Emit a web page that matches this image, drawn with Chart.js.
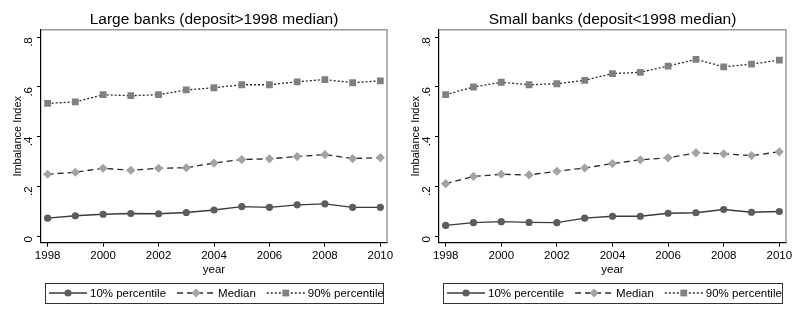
<!DOCTYPE html>
<html>
<head>
<meta charset="utf-8">
<script src="https://cdn.jsdelivr.net/npm/chart.js@4.4.0/dist/chart.umd.min.js"></script>
<style>
  body { margin: 0; background: #fff; }
  .panel { position: absolute; top: 0; width: 398px; height: 319px; }
</style>
</head>
<body>
<div class="panel" style="left:0"><canvas id="grafica1"></canvas></div>
<div class="panel" style="left:398px;width:399px"><canvas id="grafica2"></canvas></div>
<script>
var anios = [1998, 1999, 2000, 2001, 2002, 2003, 2004, 2005, 2006, 2007, 2008, 2009, 2010];
var ticksX = [1998, 2000, 2002, 2004, 2006, 2008, 2010];
var ticksY = [0, 0.2, 0.4, 0.6, 0.8];
var etiquetasY = ['0', '.2', '.4', '.6', '.8'];
var nombres = ['10% percentile', 'Median', '90% percentile'];

var grandesP10 = [0.072, 0.082, 0.088, 0.091, 0.090, 0.095, 0.105, 0.119, 0.116, 0.126, 0.130, 0.116, 0.116];
var grandesMed = [0.249, 0.257, 0.273, 0.265, 0.273, 0.275, 0.294, 0.308, 0.311, 0.320, 0.328, 0.312, 0.316];
var grandesP90 = [0.534, 0.540, 0.569, 0.565, 0.569, 0.588, 0.597, 0.609, 0.609, 0.621, 0.630, 0.617, 0.625];

var chicosP10 = [0.043, 0.054, 0.058, 0.055, 0.054, 0.072, 0.080, 0.080, 0.092, 0.094, 0.107, 0.096, 0.099];
var chicosMed = [0.211, 0.240, 0.249, 0.246, 0.261, 0.274, 0.292, 0.307, 0.315, 0.335, 0.331, 0.324, 0.339];
var chicosP90 = [0.569, 0.600, 0.619, 0.609, 0.613, 0.627, 0.654, 0.659, 0.684, 0.711, 0.681, 0.692, 0.708];

var fuente = 'Liberation Sans, Arial, sans-serif';

function puntos(valores) {
  var res = [];
  for (var i = 0; i < anios.length; i++) {
    res.push({ x: anios[i], y: valores[i] });
  }
  return res;
}

// marco gris arriba y a la derecha, como en Stata
var marco = {
  id: 'marco',
  afterDraw: function(chart) {
    var c = chart.ctx, a = chart.chartArea;
    c.save();
    c.strokeStyle = '#9a9a9a';
    c.lineWidth = 1.5;
    c.beginPath();
    c.moveTo(a.left, a.top);
    c.lineTo(a.right, a.top);
    c.lineTo(a.right, a.bottom);
    c.stroke();
    c.restore();
  }
};

// leyenda con linea + marcador dentro de una caja
var leyenda = {
  id: 'leyenda',
  afterDraw: function(chart) {
    var c = chart.ctx, a = chart.chartArea;
    var izq = a.left + 4, der = a.right - 4, arriba = 283, alto = 20;
    var cy = arriba + alto / 2;
    c.save();
    c.strokeStyle = '#333';
    c.lineWidth = 1;
    c.strokeRect(izq + 0.5, arriba + 0.5, der - izq, alto);
    c.font = '11.5px ' + fuente;
    c.textBaseline = 'middle';
    c.fillStyle = '#000';
    var x = izq + 4;
    chart.data.datasets.forEach(function(ds) {
      c.save();
      c.strokeStyle = ds.borderColor;
      c.lineWidth = ds.borderWidth;
      c.setLineDash(ds.borderDash || []);
      c.beginPath();
      c.moveTo(x, cy);
      c.lineTo(x + 38, cy);
      c.stroke();
      c.restore();
      c.save();
      c.fillStyle = ds.pointBackgroundColor;
      c.strokeStyle = ds.pointBackgroundColor;
      c.lineWidth = 0;
      Chart.helpers.drawPoint(c, { pointStyle: ds.pointStyle, radius: ds.pointRadius, rotation: 0, borderWidth: 0 }, x + 19, cy);
      c.restore();
      x += 41;
      c.fillText(ds.label, x, cy + 0.5);
      x += c.measureText(ds.label).width + 11;
    });
    c.restore();
  }
};

function crear(id, titulo, p10, med, p90) {
  var ctx = document.getElementById(id).getContext('2d');
  return new Chart(ctx, {
    type: 'line',
    data: {
      datasets: [{
        label: nombres[0],
        data: puntos(p10),
        borderColor: '#3a3a3a',
        borderWidth: 1.3,
        pointStyle: 'circle',
        pointRadius: 3.6,
        pointBackgroundColor: '#5c5c5c',
        pointBorderColor: '#5c5c5c',
        pointBorderWidth: 0
      }, {
        label: nombres[1],
        data: puntos(med),
        borderColor: '#2a2a2a',
        borderWidth: 1.3,
        borderDash: [6, 4],
        pointStyle: 'rectRot',
        pointRadius: 4.6,
        pointBackgroundColor: '#a3a3a3',
        pointBorderColor: '#a3a3a3',
        pointBorderWidth: 0
      }, {
        label: nombres[2],
        data: puntos(p90),
        borderColor: '#2a2a2a',
        borderWidth: 1.3,
        borderDash: [2, 2],
        pointStyle: 'rect',
        pointRadius: 4.8,
        pointBackgroundColor: '#808080',
        pointBorderColor: '#808080',
        pointBorderWidth: 0
      }]
    },
    options: {
      responsive: true,
      maintainAspectRatio: false,
      animation: false,
      layout: { padding: { top: 8, right: 11, bottom: 43, left: 11 } },
      plugins: {
        legend: { display: false },
        tooltip: { enabled: false },
        title: {
          display: true,
          text: titulo,
          fullSize: false,
          color: '#000',
          font: { family: fuente, size: 15.5, weight: 'normal', lineHeight: 1.15 },
          padding: { top: 3, bottom: 1 }
        }
      },
      scales: {
        x: {
          type: 'linear',
          min: 1997.76,
          max: 2010.24,
          afterBuildTicks: function(eje) {
            eje.ticks = ticksX.map(function(v) { return { value: v }; });
          },
          grid: { display: true, drawOnChartArea: false, drawTicks: true, tickLength: 4, color: '#000' },
          border: { display: true, color: '#000', width: 1.2 },
          ticks: {
            color: '#000',
            padding: 2,
            maxRotation: 0,
            font: { family: fuente, size: 11.5, lineHeight: 1.2 },
            callback: function(v) { return String(v); }
          },
          title: {
            display: true,
            text: 'year',
            color: '#000',
            padding: { top: 0, bottom: 0 },
            font: { family: fuente, size: 11.5, lineHeight: 1 }
          }
        },
        y: {
          min: -0.0265,
          max: 0.83,
          afterBuildTicks: function(eje) {
            eje.ticks = ticksY.map(function(v) { return { value: v }; });
          },
          afterFit: function(eje) {
            eje.width = 30;
          },
          grid: { display: true, drawOnChartArea: false, drawTicks: true, tickLength: 4, color: '#000' },
          border: { display: true, color: '#000', width: 1.2 },
          ticks: {
            color: '#000',
            minRotation: 90,
            maxRotation: 90,
            padding: 8,
            font: { family: fuente, size: 11.5 },
            callback: function(v) {
              var i = ticksY.indexOf(v);
              return i >= 0 ? etiquetasY[i] : '';
            }
          },
          title: {
            display: true,
            text: 'Imbalance Index',
            color: '#000',
            padding: { top: 0, bottom: 0 },
            font: { family: fuente, size: 11, lineHeight: 1.2 }
          }
        }
      }
    },
    plugins: [marco, leyenda]
  });
}

crear('grafica1', 'Large banks (deposit>1998 median)', grandesP10, grandesMed, grandesP90);
crear('grafica2', 'Small banks (deposit<1998 median)', chicosP10, chicosMed, chicosP90);
</script>
</body>
</html>
